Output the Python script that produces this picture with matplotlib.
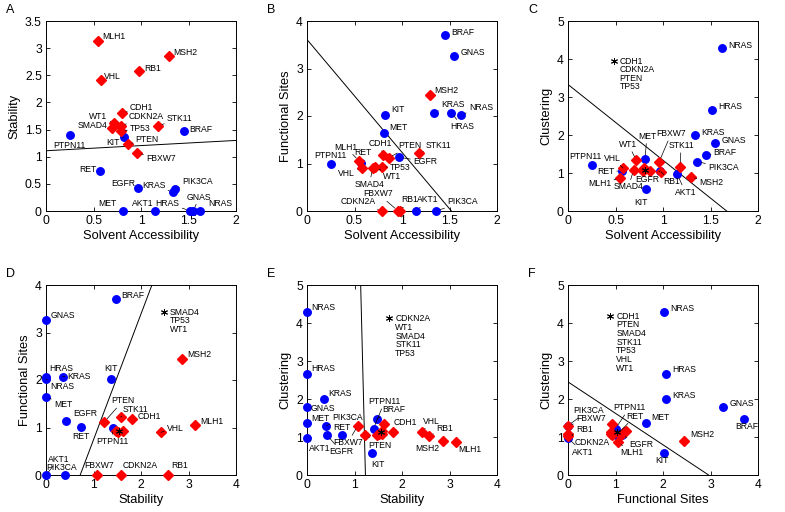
import numpy as np
import matplotlib.pyplot as plt
from matplotlib.ticker import FuncFormatter

plt.rcParams['font.family'] = ['Liberation Sans', 'DejaVu Sans']

# gene features
genes = ['PTPN11', 'KIT', 'BRAF', 'RET', 'EGFR', 'KRAS', 'PIK3CA', 'MET', 'AKT1', 'HRAS', 'GNAS', 'NRAS',
         'MLH1', 'MSH2', 'RB1', 'VHL', 'CDH1', 'WT1', 'CDKN2A', 'STK11', 'SMAD4', 'TP53', 'PTEN', 'FBXW7']
oncogenes = ['PTPN11', 'KIT', 'BRAF', 'RET', 'EGFR', 'KRAS', 'PIK3CA', 'MET', 'AKT1', 'HRAS', 'GNAS', 'NRAS']
solvent = [0.25, 0.82, 1.45, 0.57, 0.97, 1.34, 1.36, 0.81, 1.15, 1.52, 1.55, 1.62,
           0.55, 1.29, 0.98, 0.58, 0.80, 0.72, 0.79, 1.18, 0.69, 0.79, 0.86, 0.96]
stability = [1.40, 1.36, 1.47, 0.73, 0.42, 0.35, 0.41, 0.0, 0.0, 0.0, 0.0, 0.0,
             3.13, 2.86, 2.57, 2.42, 1.80, 1.62, 1.57, 1.57, 1.52, 1.47, 1.23, 1.07]
functional = [1.00, 2.03, 3.70, 1.02, 1.13, 2.07, 0.0, 1.65, 0.0, 2.07, 3.27, 2.02,
              1.05, 2.45, 0.0, 0.90, 1.17, 0.92, 0.0, 1.22, 0.90, 0.93, 1.12, 0.0]
clustering = [1.22, 0.58, 1.48, 1.05, 1.05, 1.99, 1.30, 1.36, 0.97, 2.67, 1.78, 4.28,
              0.87, 0.90, 1.03, 1.13, 1.12, 1.33, 1.08, 1.17, 1.08, 1.06, 1.05, 1.30]

# separating lines (two end points each)
line_A = [(0, 2), (1.11, 1.30)]
line_B = [(0, 1.52), (3.61, 0)]
line_C = [(0, 1.67), (3.33, 0)]
line_D = [(0.72, 2.23), (0, 4)]
line_E = [(1.13, 1.23), (5, 0)]
line_F = [(0, 2.96), (2.45, 0)]

# overlapping genes marked with a star
group_C = ['CDH1', 'CDKN2A', 'PTEN', 'TP53']
group_D = ['SMAD4', 'TP53', 'WT1']
group_E = ['CDKN2A', 'WT1', 'SMAD4', 'STK11', 'TP53']
group_F = ['CDH1', 'PTEN', 'SMAD4', 'STK11', 'TP53', 'VHL', 'WT1']

feat = {'Solvent Accessibility': solvent, 'Stability': stability,
        'Functional Sites': functional, 'Clustering': clustering}

# label placement: gene -> (dx px, dy px, ha, leader line)
lab_A = {'MLH1': (4, 5, 'left', 0), 'MSH2': (5, 3, 'left', 0), 'RB1': (5, 3, 'left', 0),
         'VHL': (3, 3, 'left', 0), 'CDH1': (8, 6, 'left', 1), 'WT1': (-7, 7, 'right', 1),
         'CDKN2A': (8, 9, 'left', 1), 'STK11': (9, 7, 'left', 1), 'SMAD4': (-4, 3, 'right', 0),
         'TP53': (9, 3, 'left', 1), 'PTEN': (8, 5, 'left', 1), 'KIT': (-4, -5, 'right', 1),
         'FBXW7': (9, -6, 'left', 1), 'PTPN11': (0, -10, 'center', 0), 'BRAF': (6, 2, 'left', 0),
         'RET': (-4, 2, 'right', 0), 'EGFR': (-3, 5, 'right', 0), 'KRAS': (-8, 6, 'right', 1),
         'PIK3CA': (7, 7, 'left', 1), 'MET': (-6, 8, 'right', 0), 'AKT1': (-2, 8, 'right', 0),
         'HRAS': (-11, 8, 'right', 1), 'GNAS': (6, 14, 'center', 1), 'NRAS': (8, 8, 'left', 0)}
lab_B = {'BRAF': (6, 3, 'left', 0), 'GNAS': (6, 3, 'left', 0), 'MSH2': (5, 4, 'left', 0),
         'KIT': (6, 5, 'left', 0), 'KRAS': (7, 8, 'left', 1), 'HRAS': (-1, -14, 'left', 1),
         'NRAS': (8, 8, 'left', 1), 'MET': (5, 5, 'left', 0), 'CDH1': (-3, 12, 'center', 1),
         'PTEN': (10, 12, 'left', 1), 'STK11': (7, 8, 'left', 1), 'EGFR': (14, -4, 'left', 1),
         'PTPN11': (0, 8, 'center', 0), 'RET': (2, 10, 'center', 0), 'MLH1': (-2, 14, 'right', 1),
         'VHL': (-7, -5, 'right', 1), 'SMAD4': (-3, -16, 'center', 1), 'WT1': (8, -9, 'left', 1),
         'TP53': (8, -1, 'left', 1), 'CDKN2A': (-6, 9, 'right', 1), 'FBXW7': (-5, 17, 'right', 1),
         'RB1': (1, 11, 'left', 1), 'AKT1': (1, 11, 'left', 1), 'PIK3CA': (11, 9, 'left', 1)}
lab_C = {'NRAS': (6, 3, 'left', 0), 'HRAS': (6, 3, 'left', 0), 'KRAS': (6, 3, 'left', 0),
         'GNAS': (6, 3, 'left', 0), 'BRAF': (8, 2, 'left', 1), 'PIK3CA': (11, -6, 'left', 1),
         'PTPN11': (-6, 8, 'center', 0), 'VHL': (-2, 10, 'right', 1), 'RET': (-8, 0, 'right', 1),
         'MLH1': (-9, -6, 'right', 1), 'SMAD4': (-5, -17, 'center', 1), 'WT1': (-8, 16, 'center', 1),
         'MET': (2, 23, 'center', 1), 'FBXW7': (12, 28, 'center', 1), 'STK11': (1, 21, 'center', 1),
         'EGFR': (-1, -8, 'right', 1), 'RB1': (2, -10, 'left', 1), 'AKT1': (8, -18, 'center', 1),
         'KIT': (-5, -14, 'center', 0), 'MSH2': (9, -6, 'left', 1)}
lab_D = {'BRAF': (5, 4, 'left', 0), 'GNAS': (5, 4, 'left', 0), 'HRAS': (3, 8, 'left', 0),
         'NRAS': (4, -7, 'left', 1), 'KRAS': (5, 0, 'left', 1), 'KIT': (0, 10, 'center', 0),
         'MET': (8, -8, 'left', 1), 'EGFR': (7, 8, 'left', 1), 'RET': (0, -10, 'center', 0),
         'PTEN': (7, 21, 'left', 1), 'STK11': (2, 8, 'left', 1), 'CDH1': (6, 3, 'left', 0),
         'PTPN11': (0, -14, 'center', 1), 'VHL': (6, 4, 'left', 1), 'MLH1': (6, 4, 'left', 0),
         'MSH2': (5, 4, 'left', 0), 'AKT1': (2, 16, 'left', 1), 'PIK3CA': (-4, 8, 'center', 0),
         'FBXW7': (2, 9, 'center', 0), 'CDKN2A': (2, 9, 'left', 0), 'RB1': (3, 9, 'left', 0)}
lab_E = {'NRAS': (4, 5, 'left', 0), 'HRAS': (4, 5, 'left', 0), 'KRAS': (5, 6, 'left', 0),
         'GNAS': (4, -1, 'left', 0), 'MET': (4, 5, 'left', 0), 'PIK3CA': (6, 8, 'left', 1),
         'RET': (0, 8, 'center', 0), 'AKT1': (2, -10, 'left', 1), 'EGFR': (2, -16, 'left', 1),
         'FBXW7': (-10, -17, 'center', 1), 'PTPN11': (11, 27, 'center', 1), 'BRAF': (5, 9, 'left', 1),
         'PTEN': (3, -10, 'left', 1), 'KIT': (0, -12, 'left', 0), 'CDH1': (1, 10, 'left', 1),
         'VHL': (1, 11, 'left', 1), 'RB1': (7, 7, 'left', 1), 'MSH2': (-3, -8, 'right', 0),
         'MLH1': (3, -8, 'left', 0)}
lab_F = {'NRAS': (6, 4, 'left', 0), 'HRAS': (6, 4, 'left', 0), 'KRAS': (6, 4, 'left', 0),
         'GNAS': (6, 4, 'left', 0), 'BRAF': (3, -8, 'center', 0), 'MET': (5, 6, 'left', 0),
         'KIT': (-2, -8, 'center', 0), 'MSH2': (6, 6, 'left', 0), 'PIK3CA': (5, 15, 'left', 1),
         'FBXW7': (8, 7, 'left', 1), 'RB1': (8, 6, 'left', 1), 'CDKN2A': (7, -9, 'left', 1),
         'AKT1': (4, -14, 'left', 1), 'PTPN11': (14, 21, 'center', 1), 'RET': (10, 19, 'left', 1),
         'EGFR': (8, -9, 'left', 1), 'MLH1': (2, -11, 'left', 1)}

W, H = 785, 512
fig = plt.figure(figsize=(W / 100, H / 100), dpi=100)

# letter, x, y, axes rect px (left, top), limits, line, star group, star legend position, labels
panels = [
    ('A', 'Solvent Accessibility', 'Stability', (46, 21), 2, 3.5, 0.5, 0.5, line_A, None, None, lab_A),
    ('B', 'Solvent Accessibility', 'Functional Sites', (307, 21), 2, 4, 0.5, 1, line_B, None, None, lab_B),
    ('C', 'Solvent Accessibility', 'Clustering', (568, 21), 2, 5, 0.5, 1, line_C, group_C, (0.48, 3.96), lab_C),
    ('D', 'Stability', 'Functional Sites', (46, 285), 4, 4, 1, 1, line_D, group_D, (2.48, 3.44), lab_D),
    ('E', 'Stability', 'Clustering', (307, 285), 4, 5, 1, 1, line_E, group_E, (1.73, 4.12), lab_E),
    ('F', 'Functional Sites', 'Clustering', (568, 285), 4, 5, 1, 1, line_F, group_F, (0.89, 4.19), lab_F),
]

fmt = FuncFormatter(lambda v, p: '%g' % v)

for letter, xn, yn, (lpx, tpx), xmax, ymax, xstep, ystep, line, group, starpos, labs in panels:
    ax = fig.add_axes([lpx / W, 1 - (tpx + 190) / H, 190 / W, 190 / H])
    xs = dict(zip(genes, feat[xn]))
    ys = dict(zip(genes, feat[yn]))
    ax.plot(line[0], line[1], color='black', lw=0.7)
    for g in genes:
        if g in oncogenes:
            ax.plot(xs[g], ys[g], 'o', color='#0000ff', ms=5.4, mec='#0000ff', clip_on=False, zorder=3)
        else:
            ax.plot(xs[g], ys[g], 'D', color='#ff0000', ms=4.9, mec='#ff0000', clip_on=False, zorder=3)
    for g, (dx, dy, ha, lead) in labs.items():
        ap = dict(arrowstyle='-', lw=0.5, color='black', shrinkA=0, shrinkB=3) if lead else None
        ax.annotate(g, (xs[g], ys[g]), xytext=(dx, dy), textcoords='offset pixels',
                    ha=ha, va='center', fontsize=6.2, arrowprops=ap, zorder=4)
    if group:
        gx = np.mean([xs[g] for g in group])
        gy = np.mean([ys[g] for g in group])
        ax.plot(gx, gy, marker=(6, 2, 0), color='black', ms=5, mew=0.7, zorder=5)
        ax.plot(starpos[0], starpos[1], marker=(6, 2, 0), color='black', ms=5, mew=0.7)
        ax.annotate('\n'.join(group), starpos, xytext=(6, 4), textcoords='offset pixels',
                    ha='left', va='top', fontsize=6.2, linespacing=0.95)
    ax.set_xlim(0, xmax)
    ax.set_ylim(0, ymax)
    ax.set_xticks(np.arange(0, xmax + 1e-9, xstep))
    ax.set_yticks(np.arange(0, ymax + 1e-9, ystep))
    ax.xaxis.set_major_formatter(fmt)
    ax.yaxis.set_major_formatter(fmt)
    ax.tick_params(direction='in', top=True, right=True, length=3, width=0.6, labelsize=8.7, pad=3)
    for s in ax.spines.values():
        s.set_linewidth(0.7)
    ax.set_xlabel(xn, fontsize=9.3, labelpad=2)
    ax.set_ylabel(yn, fontsize=9.3, labelpad=3)
    fig.text((lpx - 40) / W, 1 - (tpx - 17) / H, letter, fontsize=9, va='top', ha='left')

fig.savefig('out.png', dpi=100)
